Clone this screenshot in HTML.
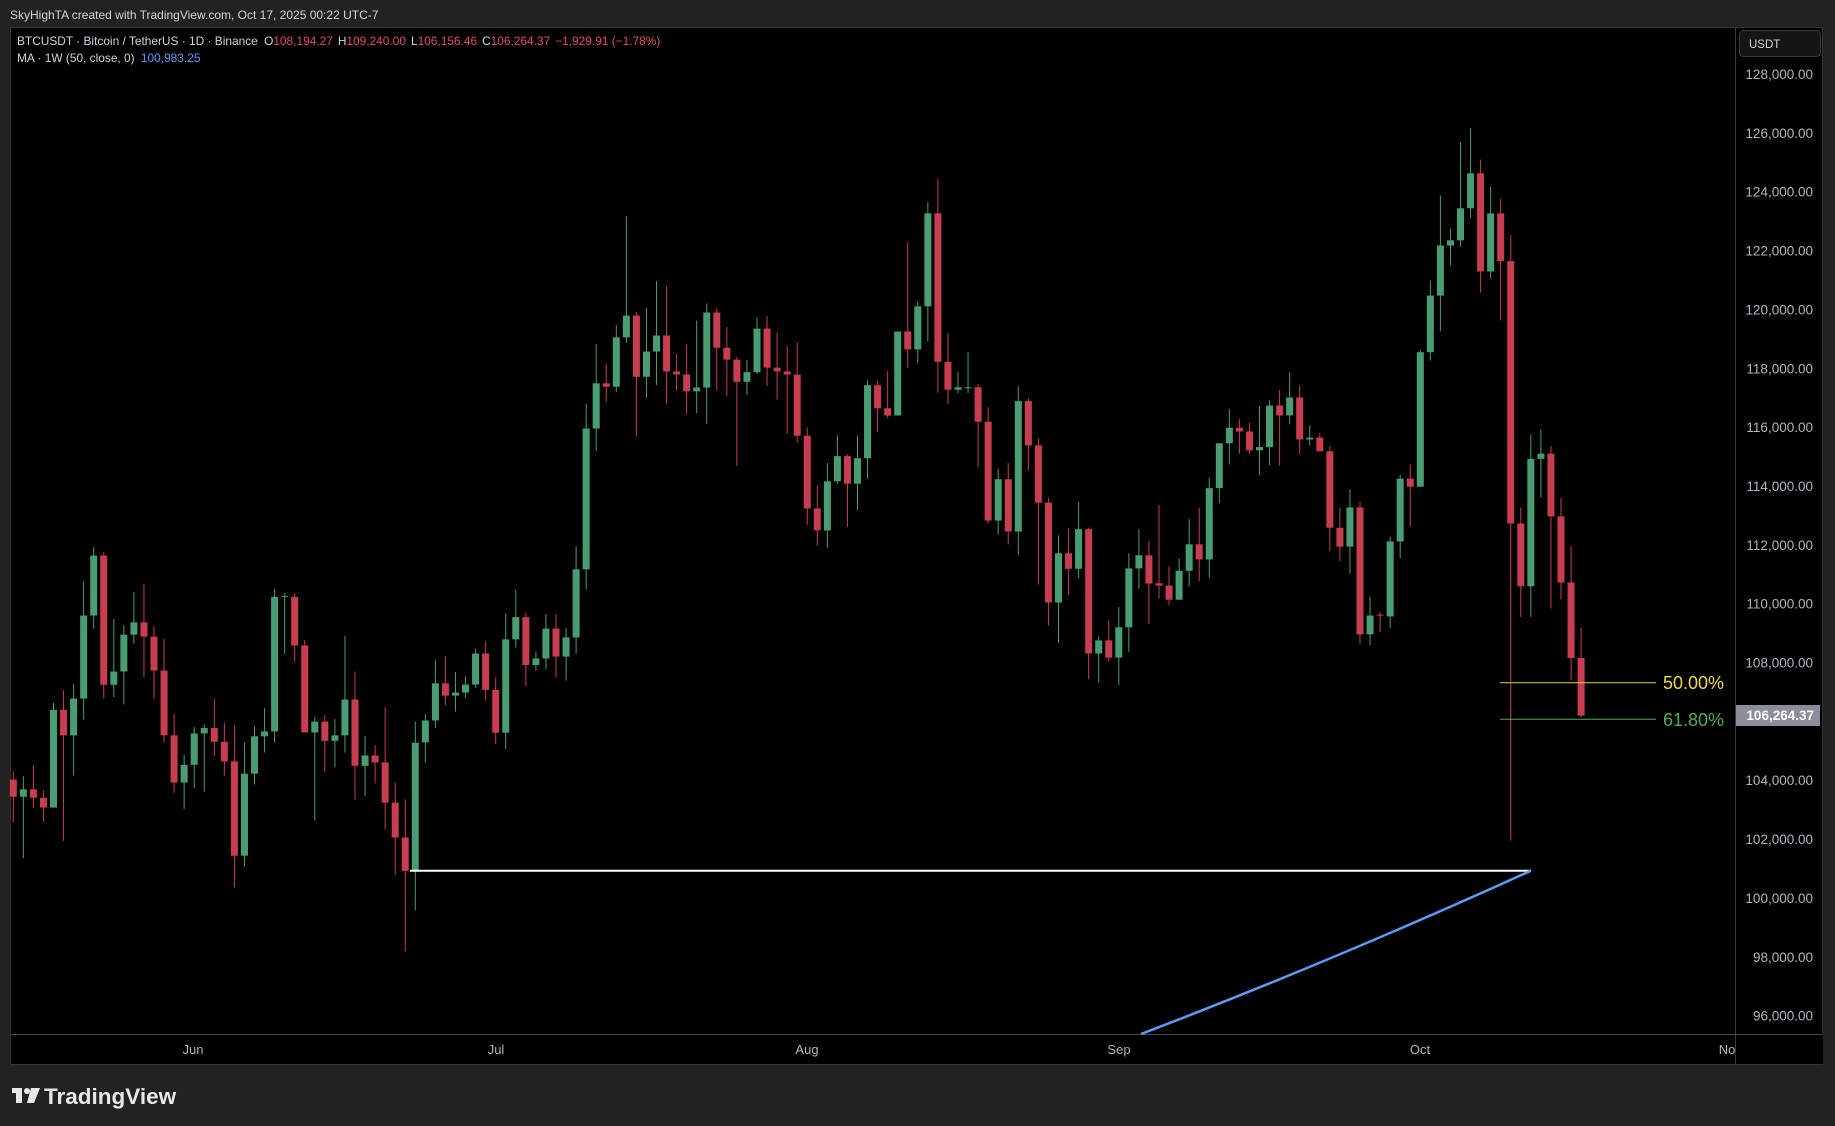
<!DOCTYPE html>
<html><head><meta charset="utf-8"><style>
html,body{margin:0;padding:0;width:1835px;height:1126px;background:#222;overflow:hidden;font-family:"Liberation Sans",sans-serif}
</style></head><body>
<svg id="s" width="1835" height="1126" xmlns="http://www.w3.org/2000/svg" style="position:absolute;left:0;top:0">
<rect x="0" y="0" width="1835" height="1126" fill="#222"/>
<rect x="10" y="27" width="1813" height="1038" fill="#000"/>
<line x1="1735.5" y1="27" x2="1735.5" y2="1065" stroke="#3a3a3a" stroke-width="1"/>
<line x1="10" y1="1034.5" x2="1823" y2="1034.5" stroke="#4a4a4a" stroke-width="1"/>
<rect x="10.5" y="27.5" width="1812" height="1037" fill="none" stroke="#333"/>
<text x="10" y="19" fill="#d1d4dc" font-size="12">SkyHighTA created with TradingView.com, Oct 17, 2025 00:22 UTC-7</text>
<text x="17" y="45" font-size="11.9" fill="#d1d4dc">BTCUSDT · Bitcoin / TetherUS · 1D · Binance  <tspan dx="3">O</tspan><tspan fill="#e04f5f">108,194.27</tspan><tspan dx="5">H</tspan><tspan fill="#e04f5f">109,240.00</tspan><tspan dx="5">L</tspan><tspan fill="#e04f5f">106,156.46</tspan><tspan dx="5">C</tspan><tspan fill="#e04f5f">106,264.37</tspan><tspan dx="5" fill="#e04f5f">−1,929.91 (−1.78%)</tspan></text>
<text x="17" y="62" font-size="11.9" fill="#d1d4dc">MA · 1W (50, close, 0) <tspan dx="3" fill="#5b9cf6">100,983.25</tspan></text>
<rect x="1739.5" y="30.5" width="81" height="26" rx="4" fill="#151515" stroke="#3a3a3a"/>
<text x="1749" y="48" font-size="11.5" fill="#d1d4dc">USDT</text>
<g id="px" font-size="13.5" fill="#b2b5be" text-anchor="end"></g>
<g id="c"></g>
<line x1="410" y1="870.7" x2="1531" y2="870.7" stroke="#fff" stroke-width="2"/>
<path d="M1141,1034 Q1330,962 1531,870.7" fill="none" stroke="#5b9cf6" stroke-width="2.5"/>
<line x1="1500" y1="682.7" x2="1656" y2="682.7" stroke="#e6d24a" stroke-width="1"/>
<line x1="1500" y1="719.3" x2="1656" y2="719.3" stroke="#4caf50" stroke-width="1"/>
<text x="1663" y="689" font-size="18" fill="#f0dc3a">50.00%</text>
<text x="1663" y="726" font-size="18" fill="#4caf50">61.80%</text>
<rect x="1736" y="705" width="84" height="21" fill="#8a8e98"/>
<text x="1814" y="720" font-size="13.5" font-weight="bold" fill="#fff" text-anchor="end">106,264.37</text>
<g font-size="13" fill="#b2b5be" text-anchor="middle">
<text x="193" y="1054">Jun</text><text x="496" y="1054">Jul</text><text x="807" y="1054">Aug</text><text x="1119" y="1054">Sep</text><text x="1420" y="1054">Oct</text><text x="1727" y="1054">No</text>
</g>
<rect x="1736" y="1035" width="87" height="29" fill="#000"/>
<g fill="#e8e8e8"><rect x="12" y="1088" width="10" height="5"/><rect x="16" y="1088" width="6" height="15"/><circle cx="27" cy="1091" r="3"/><polygon points="31,1088 40,1088 34,1103 27,1103"/></g>
<text x="44" y="1104" font-size="22.5" font-weight="600" fill="#e8e8e8">TradingView</text>
</svg>
<script>
var ns="http://www.w3.org/2000/svg";
var px=document.getElementById('px');
for(var k=0;k<=16;k++){var p=128000-k*2000;if(p==106000)continue;var t=document.createElementNS(ns,'text');t.setAttribute('x',1813);t.setAttribute('y',74+k*58.85+5);t.textContent=Math.floor(p/1000)+',000.00';px.appendChild(t);}
var z1="r,1180,1215,1163,1268|g,1200,1215,1173,1340|r,1200,1217,1150,1237|r,1217,1237,1202,1266|g,1038,1237,1024,1237|r,1038,1090,998,1305|g,1015,1090,986,1172|g,846,1015,776,1058|g,724,846,707,873|r,724,987,717,1015|g,960,987,853,1012|g,885,960,866,1027|g,860,885,798,903|r,860,889,782,972|r,889,958,868,1017|r,958,1090,893,1105|r,1090,1186,1046,1207|g,1150,1186,1130,1240|g,1086,1150,1073,1198|g,1075,1086,1068,1205|r,1075,1103,1016,1132|r,1103,1143,1064,1172|r,1143,1335,1070,1400|g,1168,1335,1104,1357|g,1092,1168,1072,1190|g,1082,1092,1034,1125|g,808,1082,792,1105|g,806,808,800,924|r,808,907,800,940|r,907,1084,896,1084|g,1062,1084,1052,1264|r,1062,1101,1049,1166|g,1090,1101,1057,1155|g,1017,1090,888,1125|r,1017,1152,960,1221|g,1131,1152,1091,1213|r,1131,1145,1110,1188|r,1145,1227,1033,1282|r,1227,1298,1186,1374|r,1298,1366,1220,1530|g,1105,1366,1062,1446";
var z2="g,1360,1417,1343,1470|g,1263,1360,1203,1380|r,1263,1295,1193,1320|g,1287,1295,1233,1337|g,1266,1287,1245,1302|g,1185,1266,1172,1275|r,1185,1280,1153,1307|r,1280,1392,1248,1422|g,1148,1392,1080,1435|g,1090,1148,1018,1170|r,1090,1215,1078,1270|g,1198,1215,1180,1230|g,1120,1198,1082,1227|r,1120,1193,1082,1248|g,1143,1193,1118,1256|g,965,1143,905,1186|g,597,965,532,1018|g,479,597,377,655|r,479,488,427,527|g,359,488,327,502|g,302,359,42,373|r,302,462,293,617|g,396,462,282,517|g,354,396,212,483|r,354,448,225,532|r,448,456,402,498|r,456,500,377,558|g,490,500,315,557|g,294,490,270,585|r,294,386,283,497|r,386,417,332,512|r,417,475,410,695|g,450,475,418,510|g,336,450,306,455|r,336,438,303,486|r,438,448,346,522|r,448,456,382,611|r,456,616,372,634|r,616,806,594,849|r,806,863,746,903";
var z3="g,933,1076,880,1126|g,860,933,800,940|r,860,940,855,1065|g,866,940,800,1017|g,654,866,640,925|r,654,721,640,790|r,721,742,613,750|g,498,742,498,742|r,498,550,238,603|g,425,550,410,590|g,155,425,123,527|r,155,586,55,676|r,586,667,503,708|g,660,667,616,677|g,660,662,558,677|r,660,760,650,893|r,760,1047,718,1055|g,927,1047,897,1088|r,927,1079,880,1116|g,700,1079,657,1146|r,700,829,692,902|r,829,995,808,1233|r,995,1285,980,1352|g,1142,1285,1090,1403|r,1142,1187,1070,1262|g,1072,1187,993,1215|r,1072,1433,1068,1508|g,1395,1433,1382,1518|r,1395,1445,1337,1457|g,1357,1445,1298,1525|g,1186,1357,1142,1428|g,1148,1186,1072,1245|r,1148,1230,1106,1348|r,1229,1236,1002,1273|r,1236,1277,1180,1293|g,1193,1277,1157,1277|g,1116,1193,1043,1238|r,1116,1160,1010,1223|g,953,1160,922,1212";
var z4="g,685,780,685,812|g,652,685,612,730|r,652,660,634,707|r,660,700,642,707|g,693,700,606,753|g,605,693,594,731|r,605,626,572,732|g,588,626,535,645|r,588,677,562,708|g,673,677,647,690|r,673,702,664,702|r,702,864,691,913|r,864,904,822,935|g,821,904,783,961|r,821,1090,808,1110|g,1050,1090,1010,1113|r,1048,1050,1043,1085|g,893,1052,883,1077|g,760,893,752,929|r,760,777,730,861|g,492,777,488,777|g,372,492,340,510|g,266,372,160,448|g,255,266,230,308|g,187,255,47,268|g,113,187,17,208|r,113,321,84,366|g,198,321,142,336|r,198,299,167,425|r,299,855,244,1527|r,855,988,821,1053|g,718,988,667,1053|g,707,718,655,800|r,707,840,691,1035|r,840,980,801,1016|r,980,1140,903,1188|r,1140,1262,1075,1266";
var groups=[[z1,200,2.036],[z2,200,2.613],[z3,160,2.904],[z4,120,2.119]];
var g=document.getElementById('c');var i=0;var out='';
groups.forEach(function(G){G[0].split('|').forEach(function(s){var a=s.split(',');var col=a[0]=='g'?'#4a9d72':'#c73e50';
var f=function(v){return G[1]+(+v)/G[2];};var x=13.3+i*10.05;
var bt=f(a[1]),bb=f(a[2]),wt=f(a[3]),wb=f(a[4]);var h=Math.max(1,bb-bt);
out+='<line x1="'+x+'" x2="'+x+'" y1="'+wt+'" y2="'+wb+'" stroke="'+col+'" stroke-width="1"/>';
out+='<rect x="'+(x-3.5)+'" y="'+bt+'" width="7" height="'+h+'" fill="'+col+'"/>';i++;});});
g.innerHTML=out;
</script>
</body></html>
